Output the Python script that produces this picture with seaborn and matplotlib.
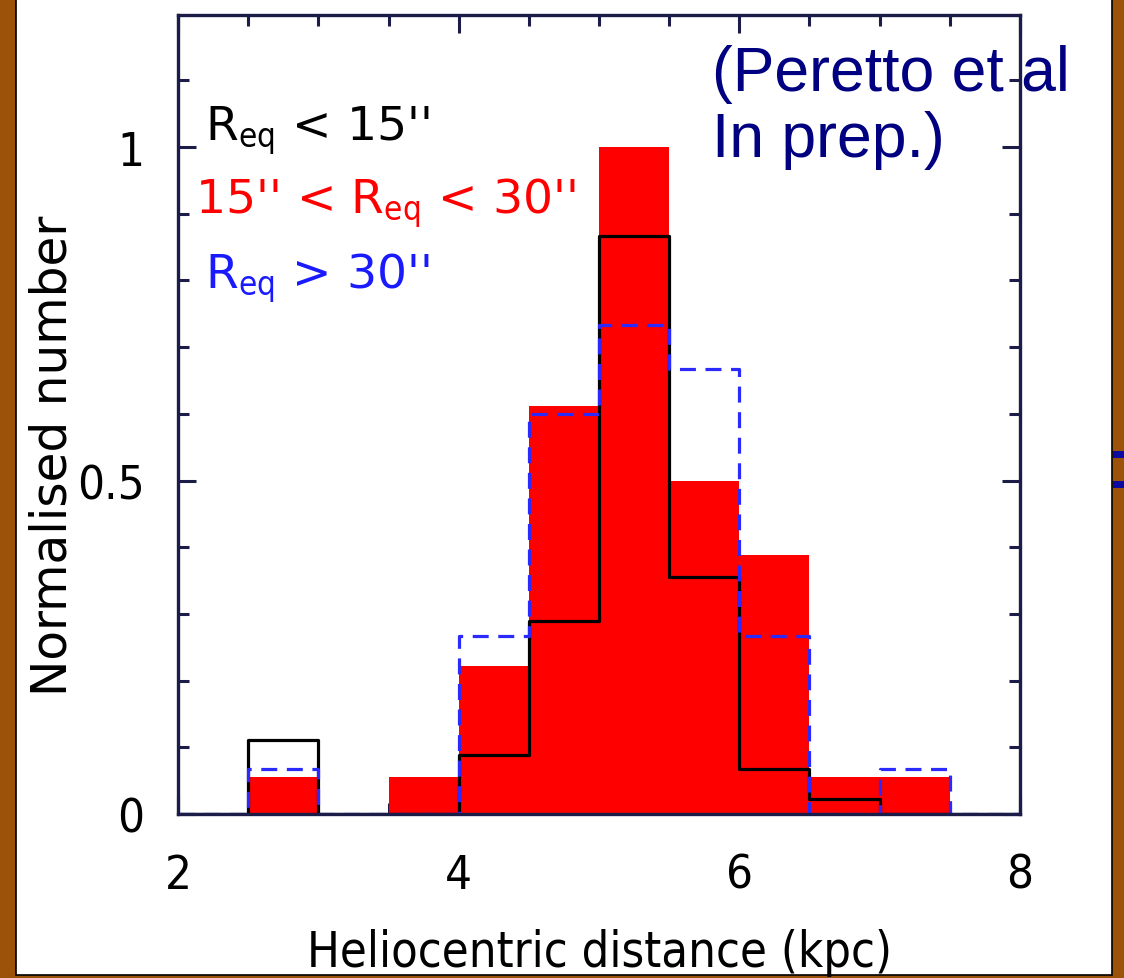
import matplotlib
matplotlib.use("Agg")
import matplotlib.pyplot as plt
from matplotlib.patches import Rectangle
import seaborn as sns


# Heliocentric distance histograms, normalised, for three clump size classes

bin_edges = [2.0, 2.5, 3.0, 3.5, 4.0, 4.5, 5.0, 5.5, 6.0, 6.5, 7.0, 7.5, 8.0]
bin_centres = [2.25, 2.75, 3.25, 3.75, 4.25, 4.75, 5.25, 5.75, 6.25, 6.75, 7.25, 7.75]

small_vals = [0, 0.111, 0, 0, 0.089, 0.289, 0.867, 0.356, 0.067, 0.022, 0, 0]      # R_eq < 15"
mid_vals = [0, 0.056, 0, 0.056, 0.222, 0.611, 1.0, 0.5, 0.389, 0.056, 0.056, 0]     # 15" < R_eq < 30"
large_vals = [0, 0.067, 0, 0, 0.267, 0.6, 0.733, 0.667, 0.267, 0, 0.067, 0]        # R_eq > 30"

x_ticks = [2, 4, 6, 8]
y_ticks = [0, 0.5, 1]
y_tick_labels = ['0', '0.5', '1']

axis_col = '#1c1c48'

sns.set_style("ticks")
plt.rcParams['font.family'] = ['DejaVu Sans']
plt.rcParams['font.stretch'] = 'condensed'
plt.rcParams['text.color'] = 'black'
plt.rcParams['axes.labelcolor'] = 'black'

fig = plt.figure(figsize=(11.24, 9.79), dpi=100)
fig.patch.set_facecolor('#9c5208')
fig.patches.append(Rectangle((16 / 1124, 1 - 976 / 979), 1096 / 1124, 976 / 979 + 0.01,
                             transform=fig.transFigure, facecolor='white',
                             edgecolor='black', linewidth=1.2, zorder=-2))
for yb in [452, 482]:
    fig.patches.append(Rectangle((1113 / 1124, 1 - (yb + 7) / 979), 11 / 1124, 7 / 979,
                                 transform=fig.transFigure, facecolor='#0a0aa0',
                                 edgecolor='none', zorder=-1))

ax = fig.add_axes([178 / 1124, 1 - 815 / 979, 842 / 1124, 799 / 979])
ax.set_facecolor('none')

sns.histplot(x=bin_centres, weights=mid_vals, bins=bin_edges, element="bars",
             fill=True, color='#ff0000', alpha=1, linewidth=0, ax=ax, zorder=1)
sns.histplot(x=bin_centres, weights=small_vals, bins=bin_edges, element="step",
             fill=False, color='black', linewidth=2.3, ax=ax, zorder=3)
sns.histplot(x=bin_centres, weights=large_vals, bins=bin_edges, element="step",
             fill=False, color='#2a2aff', linewidth=2.3, linestyle='--',
             dashes=(5, 3), ax=ax, zorder=4)

ax.set_xlim(2, 8)
ax.set_ylim(0, 1.198)
ax.set_xticks(x_ticks)
ax.set_xticks([2.5, 3, 3.5, 4.5, 5, 5.5, 6.5, 7, 7.5], minor=True)
ax.set_yticks(y_ticks)
ax.set_yticklabels(y_tick_labels)
ax.set_yticks([0.1, 0.2, 0.3, 0.4, 0.6, 0.7, 0.8, 0.9, 1.1], minor=True)

for sp in ax.spines.values():
    sp.set_visible(True)
    sp.set_color(axis_col)
    sp.set_linewidth(2.4)
    sp.set_zorder(5)

ax.tick_params(which='both', direction='in', top=True, right=True,
               color=axis_col, width=2.2, labelsize=34, labelcolor='black')
ax.tick_params(which='major', length=13)
ax.tick_params(which='minor', length=8)
ax.tick_params(axis='x', pad=28)
ax.tick_params(axis='y', pad=24)

ax.set_xlabel('Heliocentric distance (kpc)', fontsize=35, va='top')
ax.xaxis.set_label_coords(0.501, -0.143)
ax.set_ylabel('Normalised number', fontsize=35, fontstretch='normal')
ax.yaxis.set_label_coords(-0.121, 0.45)

ax.text(2.19, 1.012, "R$_{\\mathrm{eq}}$ < 15''", fontsize=34, color='black',
        va='baseline', fontstretch='normal', zorder=6)
ax.text(2.12, 0.9025, "15'' < R$_{\\mathrm{eq}}$ < 30''", fontsize=34,
        color='#ff0000', va='baseline', fontstretch='normal', zorder=6)
ax.text(2.19, 0.79, "R$_{\\mathrm{eq}}$ > 30''", fontsize=34, color='#1a1aff',
        va='baseline', fontstretch='normal', zorder=6)

fig.text(712 / 1124, 1 - 45 / 979, '(Peretto et al\nIn prep.)', fontsize=45,
         color='#000080', family=['Liberation Sans', 'DejaVu Sans'],
         stretch='normal', va='top', linespacing=1.15, zorder=6)

fig.savefig('out.png', dpi=100, facecolor=fig.get_facecolor())
